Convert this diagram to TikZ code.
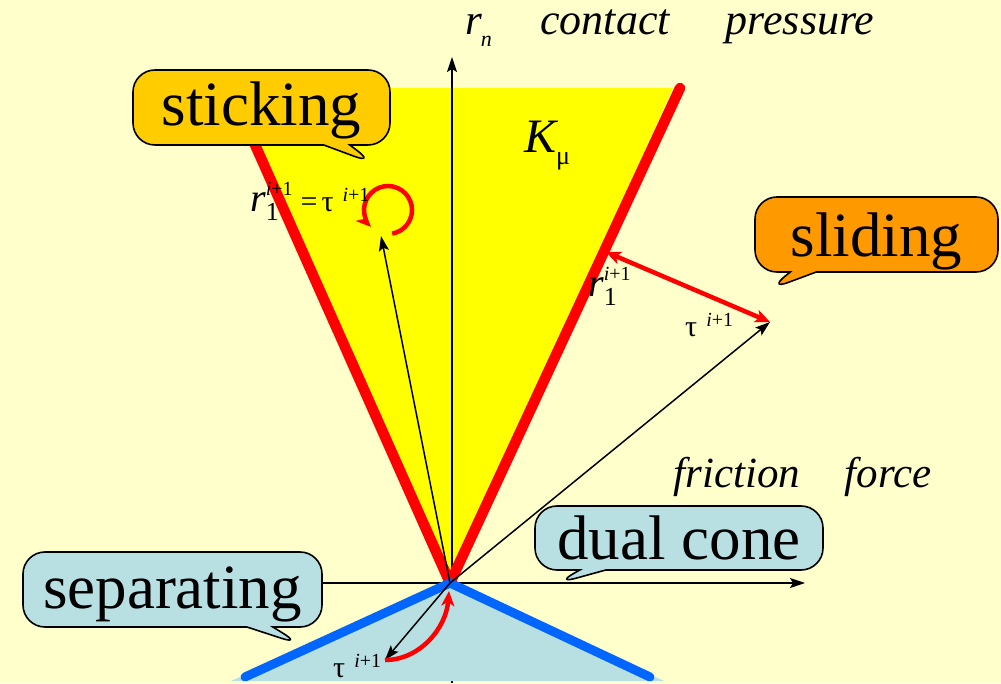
\documentclass[tikz,border=0pt]{standalone}
\usepackage{fontspec}
\setmainfont{Liberation Serif}
\usetikzlibrary{arrows.meta,shapes.callouts}

\definecolor{paper}{HTML}{FFFFCC}
\definecolor{conefill}{HTML}{FFFF00}
\definecolor{dualfill}{HTML}{B8E0E3}
\definecolor{dualblue}{HTML}{0066FF}
\definecolor{stickfill}{HTML}{FFCC00}
\definecolor{slidefill}{HTML}{FF9900}

\newcommand\fsz[1]{\fontsize{#1}{#1}\selectfont}
\newcommand\ione{{\fsz{20}\itshape i\/\upshape+1}}
\newcommand\rone{{\fsz{40}\itshape r}\rlap{\raisebox{-9pt}{\fsz{26}1}}\raisebox{16pt}{\ione}}
\newcommand\tone{{\fsz{30}τ}\hspace{9pt}\raisebox{10pt}{\ione}}
\newcommand\sinktext[2]{\raisebox{-#1}[\height][\depth]{#2}}

\begin{document}
\begin{tikzpicture}[x=1pt,y=1pt,
    vecarrow/.style={line width=1.5pt,-{Stealth[length=15pt,width=10pt,inset=3pt]}},
    redarrow/.style={red,line width=4.5pt,-{Stealth[length=15pt,width=13pt,inset=4pt]}},
    coneline/.style={red,line width=10.5pt,line cap=round,line join=round},
    dualline/.style={dualblue,line width=9pt,line cap=round},
    bubble/.style={rectangle callout,draw=black,line width=1.6pt,rounded corners=22pt,
        inner sep=0pt,callout pointer width=26pt,font=\fsz{63}},
    lbl/.style={inner sep=0pt,anchor=base west},
    axislbl/.style={inner sep=0pt,anchor=base,font=\fsz{44}\itshape}]

    % Background
    \fill[paper] (0,0) rectangle (1001,683);
    \useasboundingbox (0,0) rectangle (1001,683);

    % Points
    \coordinate (O) at (450,100);
    \coordinate (ltop) at (244,563);
    \coordinate (rtop) at (680,595);
    \coordinate (bl) at (245,6);
    \coordinate (br) at (650,6);
    \coordinate (nbot) at (452,0);
    \coordinate (ntop) at (452,626);
    \coordinate (fleft) at (300,100);
    \coordinate (fright) at (805,100);
    \coordinate (tstick) at (381,447);
    \coordinate (tslide) at (770,361);
    \coordinate (tsep) at (385,23);
    \coordinate (proj) at (606,431);
    \coordinate (circ) at (388,473);

    % Cone K
    \fill[conefill] (O) -- (230,595) -- (673,595) -- cycle;

    % Axes
    \draw[vecarrow] (nbot) -- (ntop);
    \draw[vecarrow] (fleft) -- (fright);

    % Cone edges
    \draw[coneline] (ltop) -- (O) -- (rtop);

    % Dual cone
    \fill[dualfill] (O) -- (231,2) -- (664,2) -- cycle;
    \draw[dualline] (bl) -- (O) -- (br);

    % Trial forces
    \draw[vecarrow] (O) -- (tstick);
    \draw[vecarrow] (O) -- (tslide);
    \draw[vecarrow] (O) -- (tsep);

    % Returns
    \draw[redarrow] ([shift={(-80:24)}]circ) arc[start angle=-80,end angle=225,radius=24];
    \draw[redarrow,{Stealth[length=15pt,width=13pt,inset=4pt]}-{Stealth[length=15pt,width=13pt,inset=4pt]}] (proj) -- (tslide);
    \draw[redarrow] (tsep) .. controls (420,23) and (446,55) .. (449,92);

    % Labels
    \node[lbl] (rn) at (465,648) {{\fsz{43}\itshape r}\hspace{-1pt}\raisebox{-12pt}{\fsz{22}\itshape n}};
    \node[axislbl] (cont) at (605,648) {contact};
    \node[axislbl] (pres) at (800,648) {pressure};
    \node[axislbl,font=\fsz{43}\itshape] (fric) at (737,195) {friction};
    \node[axislbl,font=\fsz{43}\itshape] (forc) at (888,195) {force};
    \node[lbl] (kmu) at (524,530) {{\fsz{48}\itshape K}\raisebox{-12pt}{\fsz{26}μ}};
    \node[lbl] (rstick) at (250,471) {\rone\hspace{8pt}{\fsz{30}=}\hspace{4pt}\tone};
    \node[lbl] (rslide) at (588,386) {\rone};
    \node[lbl] (tlslide) at (685,346) {\tone};
    \node[lbl] (tlsep) at (333,6) {\tone};

    % Callouts
    \node[bubble,fill=stickfill,minimum width=257pt,minimum height=75pt,
        callout absolute pointer={(375,519)}] (stick) at (261.5,575.5) {\sinktext{3pt}{sticking}};
    \node[bubble,fill=slidefill,minimum width=243pt,minimum height=75pt,
        callout absolute pointer={(768,393)}] (slide) at (876.5,448.5) {\sinktext{7pt}{sliding}};
    \node[bubble,fill=dualfill,minimum width=288pt,minimum height=64pt,
        callout absolute pointer={(555,99)}] (dual) at (679,145) {dual cone};
    \node[bubble,fill=dualfill,minimum width=299pt,minimum height=75pt,
        callout absolute pointer={(302,38)}] (sep) at (172.5,93.5) {\sinktext{5pt}{separating}};

\end{tikzpicture}
\end{document}
